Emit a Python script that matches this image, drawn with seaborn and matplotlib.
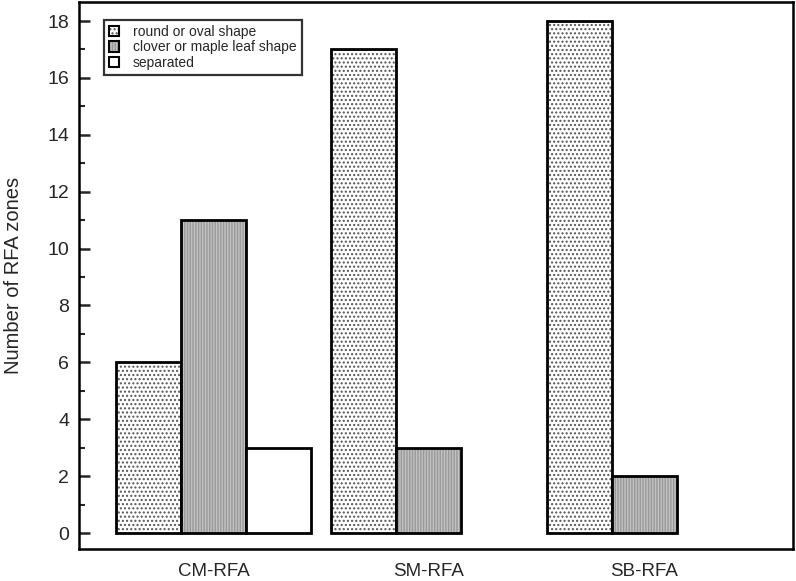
import numpy as np
import pandas as pd
import seaborn as sns
import matplotlib.pyplot as plt
from matplotlib.colors import to_rgba
from matplotlib.ticker import MultipleLocator

sns.set_style("white")
plt.rcParams['font.family'] = ['Liberation Sans', 'DejaVu Sans']
plt.rcParams['hatch.linewidth'] = 1.0

# data (nan = no bar)
groups = ["CM-RFA", "SM-RFA", "SB-RFA"]
shapes = ["round or oval shape", "clover or maple leaf shape", "separated"]
round_oval = [6, 17, 18]
clover_leaf = [11, 3, 2]
separated = [3, np.nan, np.nan]

rows = []
for shape, vals in zip(shapes, [round_oval, clover_leaf, separated]):
    for g, v in zip(groups, vals):
        rows.append({"group": g, "shape": shape, "count": v})
df = pd.DataFrame(rows).dropna()

fig = plt.figure(figsize=(7.96, 5.81), dpi=100)
ax = fig.add_axes([0.0992, 0.0551, 0.8968, 0.9415])

sns.barplot(data=df, x="group", y="count", hue="shape", hue_order=shapes,
            order=groups, width=0.905, dodge=True, legend=False,
            edgecolor="black", linewidth=2, ax=ax)

# face colour, hatch, hatch colour
styles = [("white", "....", "#555555"),
          ("#c2c2c2", "||||||", "#999999"),
          ("white", "", "black")]
for cont, (fc, hatch, hc) in zip(ax.containers, styles):
    for p in cont.patches:
        p.set_facecolor(fc)
        p.set_edgecolor("black")
        p.set_hatch(hatch)
        p._hatch_color = to_rgba(hc)

ax.set_xlim(-0.624, 2.689)
ax.set_ylim(-0.56, 18.67)
ax.yaxis.set_major_locator(MultipleLocator(2))
ax.yaxis.set_minor_locator(MultipleLocator(1))
ax.tick_params(axis="y", which="major", direction="in", length=8, width=1.8,
               labelsize=14, left=True, pad=7)
ax.tick_params(axis="y", which="minor", direction="in", length=4.5, width=1.5,
               left=True)
ax.tick_params(axis="x", length=0, labelsize=13.5, pad=10)
for s in ax.spines.values():
    s.set_linewidth(1.8)
    s.set_color("black")

ax.set_xlabel("")
ax.set_ylabel("Number of RFA zones", fontsize=14.5)
ax.yaxis.set_label_coords(-0.078, 0.5)

handles = [c.patches[0] for c in ax.containers]
leg = ax.legend(handles, shapes, loc="upper left", bbox_to_anchor=(0.035, 0.967),
                fontsize=10, frameon=True, fancybox=False, handlelength=0.75,
                handleheight=0.75, handletextpad=1.0, labelspacing=0.1,
                borderpad=0.35, borderaxespad=0)
leg.get_frame().set_edgecolor("black")
leg.get_frame().set_linewidth(1.6)
for h, (fc, hatch, hc) in zip(leg.legend_handles, styles):
    h.set_linewidth(1.5)
    h._hatch_color = to_rgba(hc)

fig.savefig("out.png", dpi=100)
